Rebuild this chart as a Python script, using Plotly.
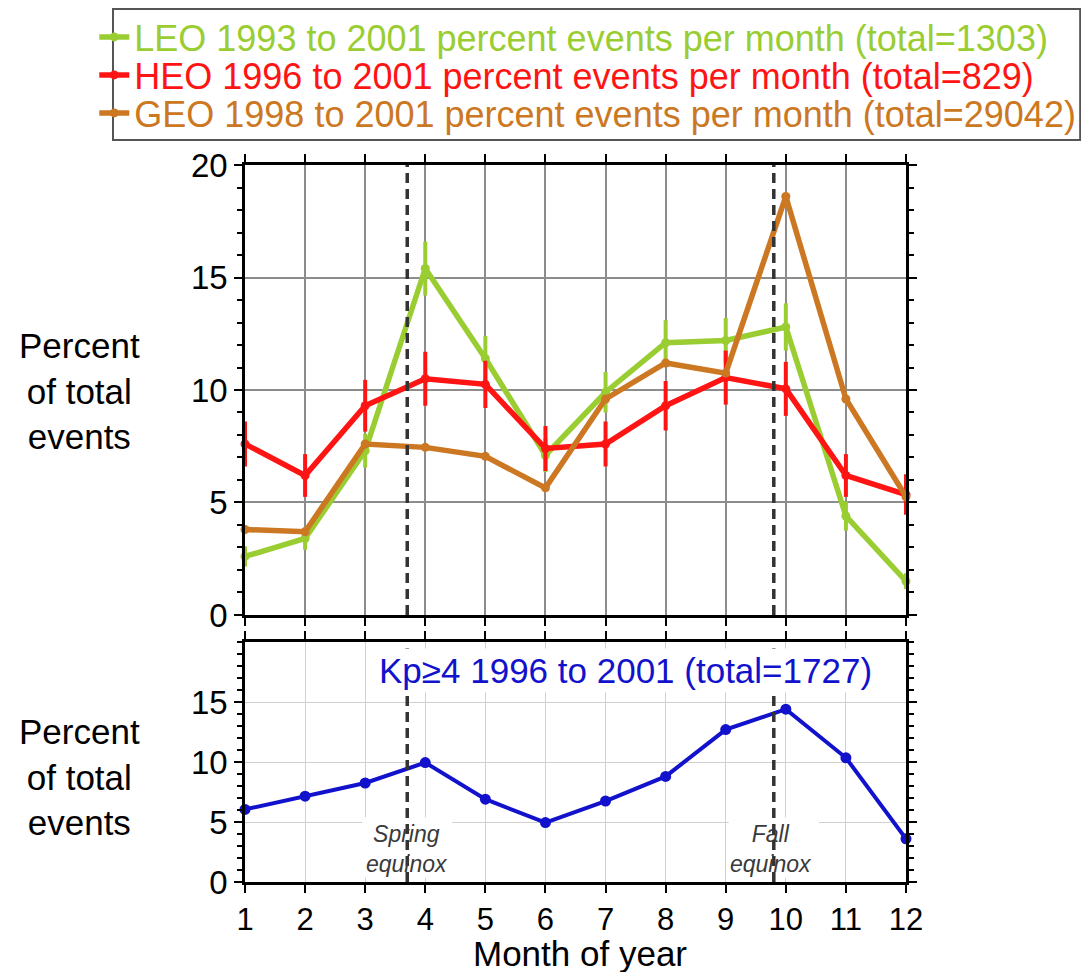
import plotly.graph_objects as go

months = list(range(1, 13))
month_labels = [str(m) for m in months]

leo = [2.6, 3.4, 7.3, 15.4, 11.4, 7.1, 9.9, 12.1, 12.2, 12.8, 4.4, 1.5]
leo_err = [0.45, 0.5, 0.75, 1.2, 1.0, 0.75, 0.9, 1.0, 1.0, 1.05, 0.65, 0.35]
heo = [7.6, 6.2, 9.3, 10.5, 10.25, 7.4, 7.6, 9.3, 10.55, 10.05, 6.2, 5.35]
heo_err = [1.0, 0.95, 1.15, 1.2, 1.05, 1.0, 1.0, 1.1, 1.2, 1.2, 0.95, 0.9]
geo = [3.8, 3.7, 7.6, 7.45, 7.05, 5.65, 9.6, 11.2, 10.75, 18.6, 9.6, 5.25]
kp = [6.05, 7.15, 8.25, 9.95, 6.9, 4.95, 6.75, 8.8, 12.7, 14.4, 10.35, 3.6]

equinox_x = [3.7, 9.8]
equinox_labels = ["Spring<br>equinox", "Fall<br>equinox"]

leo_name = "LEO 1993 to 2001 percent events per month (total=1303)"
heo_name = "HEO 1996 to 2001 percent events per month (total=829)"
geo_name = "GEO 1998 to 2001 percent events per month (total=29042)"
kp_name = "Kp\u22654 1996 to 2001 (total=1727)"

C_LEO = "#9acd32"
C_HEO = "#ff1414"
C_GEO = "#cc7722"
C_KP = "#1212cc"

FONT = "Liberation Sans, Arial, sans-serif"

fig = go.Figure()

def named(txt, col):
    return f"<span style='color:{col}'>{txt}</span>"

fig.add_trace(go.Scatter(
    x=months, y=leo, mode="lines+markers", name=named(leo_name, C_LEO), legend="legend",
    line=dict(color=C_LEO, width=5.5), marker=dict(color=C_LEO, size=9),
    error_y=dict(type="data", array=leo_err, color=C_LEO, thickness=4, width=0),
    xaxis="x", yaxis="y", cliponaxis=False))
fig.add_trace(go.Scatter(
    x=months, y=heo, mode="lines+markers", name=named(heo_name, C_HEO), legend="legend2",
    line=dict(color=C_HEO, width=5.5), marker=dict(color=C_HEO, size=9),
    error_y=dict(type="data", array=heo_err, color=C_HEO, thickness=4, width=0),
    xaxis="x", yaxis="y", cliponaxis=False))
fig.add_trace(go.Scatter(
    x=months, y=geo, mode="lines+markers", name=named(geo_name, C_GEO), legend="legend3",
    line=dict(color=C_GEO, width=5.5), marker=dict(color=C_GEO, size=9),
    xaxis="x", yaxis="y", cliponaxis=False))
fig.add_trace(go.Scatter(
    x=months, y=kp, mode="lines+markers", showlegend=False,
    line=dict(color=C_KP, width=4), marker=dict(color=C_KP, size=11),
    xaxis="x2", yaxis="y2", cliponaxis=False))

shapes = []
# legend frame
shapes.append(dict(type="rect", xref="paper", yref="paper", x0=-0.1997, x1=1.2635,
                   y0=1.0349, y1=1.2175, line=dict(color="#555555", width=2),
                   fillcolor="rgba(0,0,0,0)", layer="above"))
# white boxes behind the equinox labels (above grid, below traces)
for ex in equinox_x:
    shapes.append(dict(type="rect", xref="x2", yref="y2", x0=ex - 0.75, x1=ex + 0.75,
                       y0=0.35, y1=5.4, fillcolor="white", line=dict(width=0),
                       layer="between"))
for ex in equinox_x:
    shapes.append(dict(type="line", xref="x", yref="y domain", x0=ex, x1=ex, y0=0, y1=1,
                       line=dict(color="#333333", width=3.5, dash="10px,6px"), layer="above"))
    shapes.append(dict(type="line", xref="x2", yref="y2 domain", x0=ex, x1=ex, y0=0, y1=1,
                       line=dict(color="#333333", width=3.5, dash="10px,6px"), layer="above"))

annotations = []
for ex, lab in zip(equinox_x, equinox_labels):
    annotations.append(dict(x=ex, y=2.75, xref="x2", yref="y2", text=lab, showarrow=False,
                            font=dict(family=FONT, size=23, color="#3a3a3a", style="italic"),
                            xanchor="center", yanchor="middle",
                            xshift=-3 if ex > 6 else 0))
annotations.append(dict(x=7.33, y=17.6, xref="x2", yref="y2", text=kp_name, showarrow=False,
                        font=dict(family=FONT, size=35, color=C_KP), bgcolor="white",
                        borderpad=2, xanchor="center", yanchor="middle"))
for yy in [0.685, 0.146]:
    annotations.append(dict(x=-0.251, y=yy, xref="paper", yref="paper",
                            text="Percent<br>of total<br>events", showarrow=False,
                            font=dict(family=FONT, size=35, color="black"),
                            xanchor="center", yanchor="middle", align="center"))
annotations.append(dict(x=0.507, y=-0.1, xref="paper", yref="paper", text="Month of year",
                        showarrow=False, font=dict(family=FONT, size=35, color="black"),
                        xanchor="center", yanchor="middle"))

axis_common = dict(showline=True, linecolor="black", linewidth=2.5, mirror="ticks",
                   ticks="outside", ticklen=8, tickwidth=2, tickcolor="black",
                   zeroline=False)

legend_common = dict(xanchor="left", yanchor="middle", x=-0.228,
                     bgcolor="rgba(0,0,0,0)", borderwidth=0,
                     font=dict(family=FONT, size=36), itemwidth=30)

fig.update_layout(
    width=1081, height=964,
    margin=dict(l=237, r=183, t=157, b=90, autoexpand=False),
    paper_bgcolor="white", plot_bgcolor="white",
    font=dict(family=FONT, color="black"),
    showlegend=True,
    legend=dict(y=1.1785, **legend_common),
    legend2=dict(y=1.1255, **legend_common),
    legend3=dict(y=1.0725, **legend_common),
    xaxis=dict(domain=[0, 1], range=[1, 12], anchor="y", tickvals=months,
               showticklabels=False, showgrid=True, gridcolor="#8c8c8c", gridwidth=1.5,
               **axis_common),
    yaxis=dict(domain=[0.3724, 1], range=[0, 20], anchor="x", tickvals=[0, 5, 10, 15, 20],
               showgrid=True, gridcolor="#8c8c8c", gridwidth=1.5,
               tickfont=dict(family=FONT, size=33, color="black"),
               minor=dict(dtick=1, ticks="outside", ticklen=5, tickwidth=1.5,
                          tickcolor="black", showgrid=False),
               **axis_common),
    xaxis2=dict(domain=[0, 1], range=[1, 12], anchor="y2", tickvals=months,
                ticktext=month_labels, showgrid=True, gridcolor="#d0d0d0", gridwidth=1,
                tickfont=dict(family=FONT, size=31, color="black"),
                **axis_common),
    yaxis2=dict(domain=[0, 0.3347], range=[0, 20], anchor="x2", tickvals=[0, 5, 10, 15],
                showgrid=True, gridcolor="#d0d0d0", gridwidth=1,
                tickfont=dict(family=FONT, size=33, color="black"),
                minor=dict(dtick=1, ticks="outside", ticklen=5, tickwidth=1.5,
                           tickcolor="black", showgrid=False),
                **axis_common),
    shapes=shapes,
    annotations=annotations,
)

fig.write_html("out.html")
